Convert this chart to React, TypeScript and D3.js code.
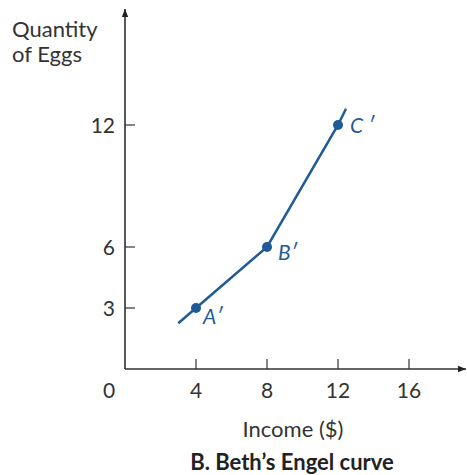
import React from "react";
import * as d3 from "d3";

const incomes = [3, 4, 8, 12, 12.45];
const eggs = [2.25, 3, 6, 12, 12.8];
const points = [
  { label: "A", x: 4, y: 3 },
  { label: "B", x: 8, y: 6 },
  { label: "C", x: 12, y: 12 },
];
const xTicks = [4, 8, 12, 16];
const yTicks = [3, 6, 12];

const W = 467;
const H = 475;
const blue = "#1f5a99";
const font = "Lato, 'Open Sans', sans-serif";

export default function App() {
  const x = d3.scaleLinear().domain([0, 16]).range([125, 409]);
  const y = d3.scaleLinear().domain([0, 12]).range([369, 125]);
  const line = d3
    .line<number>()
    .x((_, i) => x(incomes[i]))
    .y((d) => y(d));
  const labelOffsets: Record<string, [number, number]> = {
    A: [7, 16],
    B: [11, 13],
    C: [12, 8],
  };
  return (
    <svg
      width={W}
      height={H}
      style={{ position: "absolute", left: 0, top: 0 }}
      fontFamily={font}
    >
      <defs>
        <marker id="arr" viewBox="0 0 10 10" refX="10" refY="5" markerWidth="8" markerHeight="8" orient="auto" markerUnits="userSpaceOnUse">
          <path d="M0,1 L10,5 L0,9 Z" fill="#222" />
        </marker>
      </defs>
      <line x1={x(0)} y1={y(0)} x2={466} y2={y(0)} stroke="#333" strokeWidth={1.5} markerEnd="url(#arr)" />
      <line x1={x(0)} y1={y(0)} x2={x(0)} y2={9} stroke="#222" strokeWidth={1.5} markerEnd="url(#arr)" />
      {xTicks.map((t) => (
        <g key={t}>
          <line x1={x(t)} x2={x(t)} y1={y(0)} y2={y(0) - 10} stroke="#333" strokeWidth={1.2} />
          <text x={x(t)} y={398} textAnchor="middle" fontSize={21} fill="#333">{t}</text>
        </g>
      ))}
      <text x={109} y={398} textAnchor="middle" fontSize={21} fill="#333">0</text>
      {yTicks.map((t) => (
        <g key={t}>
          <line x1={x(0)} x2={x(0) + 10} y1={y(t)} y2={y(t)} stroke="#333" strokeWidth={1.2} />
          <text x={115} y={y(t) + 7.5} textAnchor="end" fontSize={21} fill="#333">{t}</text>
        </g>
      ))}
      <text x={12} y={37} fontSize={22} fill="#333">Quantity</text>
      <text x={12} y={62} fontSize={22} fill="#333">of Eggs</text>
      <text x={293} y={437} textAnchor="middle" fontSize={22} fill="#333">Income ($)</text>
      <text x={292} y={470} textAnchor="middle" fontSize={22} fontWeight="bold" fill="#222">B. Beth’s Engel curve</text>
      <path d={line(eggs) || ""} fill="none" stroke={blue} strokeWidth={2.5} />
      {points.map((p) => (
        <g key={p.label}>
          <circle cx={x(p.x)} cy={y(p.y)} r={5} fill={blue} />
          <text
            x={x(p.x) + labelOffsets[p.label][0]}
            y={y(p.y) + labelOffsets[p.label][1]}
            fontSize={21}
            fontStyle="italic"
            fill={blue}
          >
            {p.label}
            {p.label === "C" ? " ′" : "′"}
          </text>
        </g>
      ))}
    </svg>
  );
}
